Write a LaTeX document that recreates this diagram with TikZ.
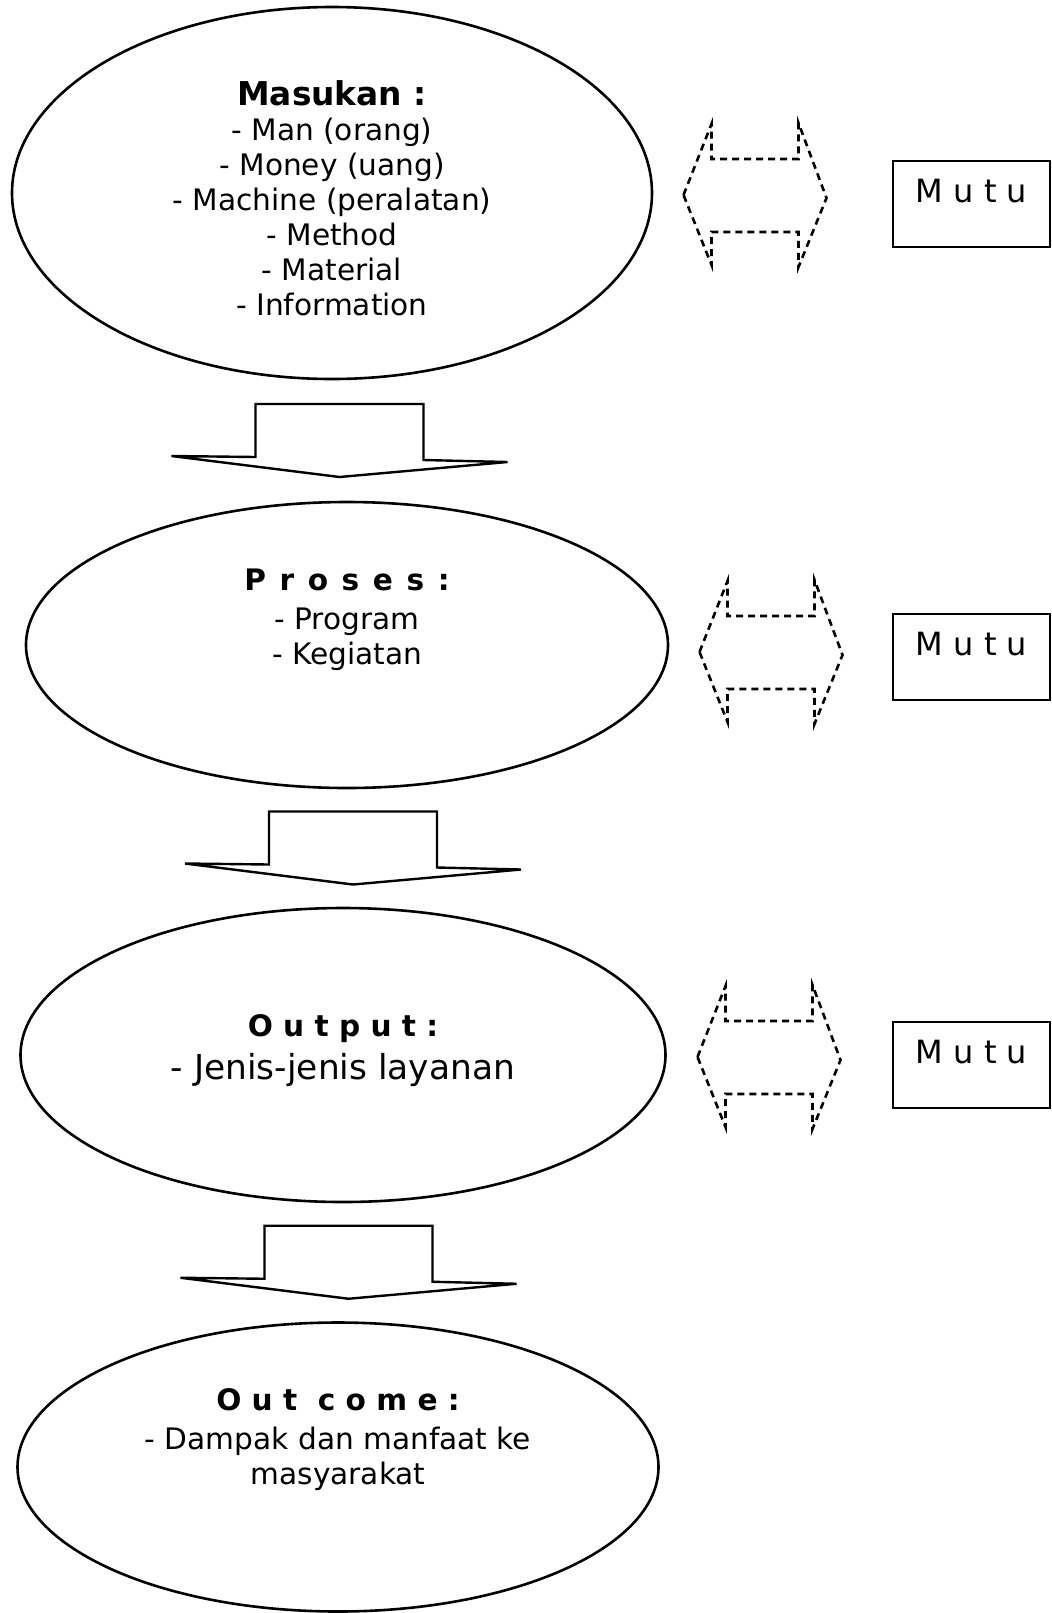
\documentclass[tikz,border=0pt]{standalone}
\usepackage{fontspec}
\setmainfont{DejaVu Sans}
\usetikzlibrary{shapes.geometric, calc}

\tikzset{
  tahap/.style={ellipse, draw, line width=1.3pt, inner sep=0pt},
  isi/.style={align=center, font=\fontsize{14.8}{17.5}\selectfont},
  mutubox/.style={draw, line width=1.3pt, minimum width=157pt, minimum height=43pt, inner sep=0pt,
    text height=9pt, text depth=11pt, font=\fontsize{16}{18}\selectfont},
  pics/turun/.style={code={
    \draw[line width=1.2pt] (-168,15.5) -- (-84,16.5) -- (-84,-36.5) -- (84,-36.5)
      -- (84,19.5) -- (168,21.5) -- (0,36.5) -- cycle;
  }},
  pics/timbal/.style={code={
    \draw[line width=1.3pt, dash pattern=on 3.5pt off 2.5pt] (-71.5,0) -- (-43.5,-71) -- (-43.5,-36)
      -- (43.5,-36) -- (43.5,-72) -- (71.5,3) -- (43.5,72) -- (43.5,37)
      -- (-43.5,37) -- (-43.5,70) -- cycle;
  }},
}

\begin{document}
\begin{tikzpicture}[x=0.5pt, y=-0.5pt]
  \useasboundingbox (0,0) rectangle (1052,1613);

  % tahapan
  \node[tahap, minimum width=320pt, minimum height=186pt] (masukan) at (332,193) {};
  \node[tahap, minimum width=321pt, minimum height=143pt] (proses) at (347,645) {};
  \node[tahap, minimum width=322.5pt, minimum height=147pt] (output) at (343,1055) {};
  \node[tahap, minimum width=320.5pt, minimum height=144.5pt] (outcome) at (338,1467) {};

  \node[isi] (masukan-isi) at ([yshift=-2.5pt]masukan.center) {{\fontsize{16.4}{17.5}\selectfont\textbf{Masukan :}}\\
    - Man (orang)\\ - Money (uang)\\ - Machine (peralatan)\\ - Method\\ - Material\\ - Information};
  \node[isi] (proses-isi) at ([yshift=12.5pt]proses.center) {\textbf{\spaceskip=0.46em\relax P r o s e s :}\\[2pt]
    - Program\\ - Kegiatan};
  \node[isi] (output-isi) at ([yshift=2pt]output.center) {\textbf{O u t p u t :}\\[4pt]
    {\fontsize{17.2}{17.5}\selectfont - Jenis-jenis layanan}};
  \node[isi] (outcome-isi) at ([yshift=13.5pt]outcome.center) {\textbf{O u t~ c o m e :}\\[2pt]
    - Dampak dan manfaat ke\\ masyarakat};

  % mutu
  \node[mutubox, minimum width=78.5pt] (mutu1) at (971.5,204) {M u t u};
  \node[mutubox, minimum width=78.5pt] (mutu2) at (971.5,657) {M u t u};
  \node[mutubox, minimum width=78.5pt] (mutu3) at (971.5,1065) {M u t u};

  \pic at (755,195) {timbal};
  \pic at (771,652) {timbal};
  \pic at (769,1057) {timbal};

  % panah antar tahap
  \pic at ($(masukan.south)!0.5!(proses.north)$) {turun};
  \pic[xshift=4pt] at ($(proses.south)!0.5!(output.north)$) {turun};
  \pic[xshift=4pt] at ($(output.south)!0.5!(outcome.north)$) {turun};
\end{tikzpicture}
\end{document}
